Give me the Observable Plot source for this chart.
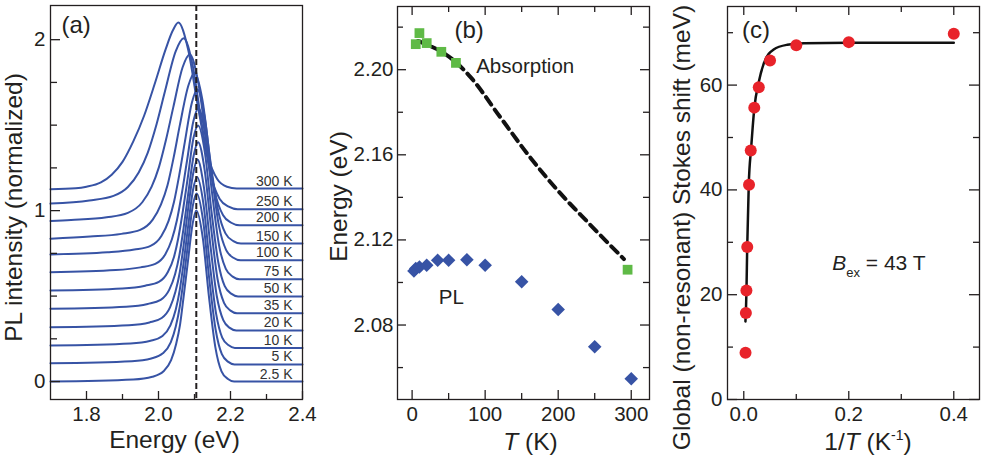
<!DOCTYPE html>
<html><head><meta charset="utf-8">
<script src="https://cdn.jsdelivr.net/npm/d3@7"></script>
<script src="https://cdn.jsdelivr.net/npm/@observablehq/plot@0.6"></script>
<style>
html,body{margin:0;padding:0;background:#fff;}
#wrap{position:relative;width:981px;height:458px;overflow:hidden;}
#wrap > svg{position:absolute;top:0;}
</style></head><body><div id="wrap"></div>
<script>
// ---------- Panel (a): PL spectra (energy eV, normalized intensity) ----------
const specTemps = ["2.5 K","5 K","10 K","20 K","35 K","50 K","75 K","100 K","150 K","200 K","250 K","300 K"];
const specOffsets = [0, 0.10, 0.197, 0.299, 0.40, 0.498, 0.599, 0.709, 0.807, 0.914, 1.008, 1.125];
const spec2_5 = [[1.7,0],[1.930,.012],[1.983,.028],[2.014,.06],[2.035,.125],[2.049,.22],[2.060,.335],[2.070,.5],[2.081,.69],[2.095,.925],[2.105,1],[2.123,.84],[2.140,.5],[2.158,.2],[2.175,.06],[2.193,.015],[2.210,0],[2.4,0]];
const spec5 = [[1.7,.007],[1.926,.019],[1.980,.035],[2.012,.065],[2.034,.129],[2.048,.222],[2.059,.336],[2.070,.501],[2.081,.69],[2.095,.925],[2.106,1],[2.124,.84],[2.141,.5],[2.159,.2],[2.176,.06],[2.194,.015],[2.211,0],[2.4,0]];
const spec10 = [[1.7,.014],[1.922,.026],[1.978,.042],[2.011,.07],[2.033,.132],[2.048,.224],[2.059,.338],[2.070,.501],[2.081,.69],[2.096,.925],[2.107,1],[2.125,.84],[2.142,.5],[2.160,.2],[2.177,.06],[2.195,.015],[2.212,0],[2.4,0]];
const spec20 = [[1.7,.019],[1.918,.031],[1.975,.047],[2.009,.073],[2.032,.135],[2.047,.226],[2.059,.339],[2.070,.502],[2.081,.69],[2.097,.925],[2.108,1],[2.126,.84],[2.144,.5],[2.162,.2],[2.180,.06],[2.198,.015],[2.216,0],[2.4,0]];
const spec35 = [[1.7,.026],[1.910,.038],[1.970,.054],[2.006,.078],[2.030,.138],[2.046,.228],[2.058,.34],[2.070,.503],[2.082,.69],[2.098,.925],[2.110,1],[2.128,.84],[2.146,.5],[2.164,.2],[2.182,.06],[2.200,.015],[2.218,0],[2.4,0]];
const spec50 = [[1.7,.035],[1.900,.047],[1.963,.063],[2.001,.085],[2.026,.143],[2.043,.231],[2.055,.342],[2.068,.504],[2.081,.69],[2.097,.925],[2.110,1],[2.129,.84],[2.147,.5],[2.166,.2],[2.184,.06],[2.203,.015],[2.221,0],[2.4,0]];
const spec75 = [[1.7,.041],[1.881,.053],[1.950,.069],[1.991,.089],[2.019,.146],[2.037,.232],[2.051,.343],[2.065,.504],[2.079,.69],[2.097,.925],[2.111,1],[2.130,.84],[2.149,.5],[2.168,.2],[2.187,.06],[2.206,.015],[2.225,0],[2.4,0]];
const spec100 = [[1.7,.035],[1.858,.047],[1.933,.063],[1.978,.085],[2.008,.143],[2.028,.231],[2.043,.342],[2.058,.504],[2.073,.69],[2.093,.925],[2.108,1],[2.128,.84],[2.148,.5],[2.168,.2],[2.188,.06],[2.208,.015],[2.228,0],[2.4,0]];
const spec150 = [[1.7,.029],[1.810,.041],[1.897,.057],[1.949,.08],[1.984,.14],[2.007,.229],[2.025,.341],[2.042,.503],[2.059,.69],[2.083,.925],[2.100,1],[2.122,.84],[2.143,.5],[2.165,.2],[2.186,.06],[2.208,.015],[2.229,0],[2.4,0]];
const spec200 = [[1.7,.025],[1.757,.031],[1.856,.047],[1.915,.073],[1.955,.135],[1.981,.226],[2.001,.339],[2.021,.502],[2.041,.69],[2.067,.925],[2.087,1],[2.110,.84],[2.133,.5],[2.156,.2],[2.179,.06],[2.202,.015],[2.225,0],[2.4,0]];
const spec250 = [[1.7,.033],[1.808,.051],[1.875,.078],[1.915,.13],[1.945,.215],[1.970,.33],[1.995,.50],[2.018,.69],[2.048,.925],[2.070,1],[2.095,.84],[2.120,.5],[2.145,.2],[2.170,.06],[2.195,.015],[2.220,0],[2.4,0]];
const spec300 = [[1.7,0],[1.77,.006],[1.80,.015],[1.84,.04],[1.87,.085],[1.90,.16],[1.93,.28],[1.96,.43],[1.99,.62],[2.02,.82],[2.04,.93],[2.055,.975],[2.082,.82],[2.109,.49],[2.136,.2],[2.163,.06],[2.190,.015],[2.217,.005],[2.4,.005]];
const spectra = [spec2_5, spec5, spec10, spec20, spec35, spec50, spec75, spec100, spec150, spec200, spec250, spec300];
const refEnergy = [2.105];
const aXMajor = [1.8, 2.0, 2.2, 2.4], aXMinor = [1.9, 2.1, 2.3];
const aYMajor = [0, 1, 2], aYMinor = [0.25, 0.5, 0.75, 1.25, 1.5, 1.75];

// ---------- Panel (b): peak energies vs T ----------
const plT = [2.5, 5, 10, 20, 35, 50, 75, 100, 150, 200, 250, 300];
const plE = [2.1054, 2.1066, 2.1073, 2.1081, 2.1104, 2.1104, 2.1107, 2.1081, 2.1003, 2.0873, 2.0698, 2.0548];
const absT = [5, 10, 20, 40, 60, 295];
const absE = [2.2120, 2.2172, 2.2125, 2.2084, 2.2032, 2.1060];
const absFitT = [8, 20, 40, 60, 80, 120, 160, 200, 240, 290];
const absFitE = [2.2135, 2.2118, 2.2085, 2.2035, 2.1965, 2.1780, 2.1595, 2.1430, 2.1285, 2.1110];
const bXMajor = [0, 100, 200, 300], bXMinor = [50, 150, 250];
const bYMajor = [2.08, 2.12, 2.16, 2.20], bYMinor = [2.06, 2.10, 2.14, 2.18, 2.22];

// ---------- Panel (c): Stokes shift vs 1/T ----------
const invT = [0.00333, 0.004, 0.005, 0.00667, 0.01, 0.0133, 0.02, 0.0286, 0.05, 0.1, 0.2, 0.4];
const stokes = [8.9, 16.5, 20.8, 29.1, 41.0, 47.5, 55.7, 59.6, 64.7, 67.6, 68.2, 69.8];
const fitInvT = [0.0032, 0.0051, 0.0065, 0.0095, 0.014, 0.017, 0.02, 0.0286, 0.038, 0.057, 0.083, 0.115, 0.2, 0.4];
const fitStokes = [14.9, 20.6, 28.9, 41, 48, 52, 55.5, 60.6, 64.1, 66.8, 67.7, 68, 68.1, 68.1];
const cXMajor = [0, 0.2, 0.4], cXMinor = [0.1, 0.3];
const cYMajor = [0, 20, 40, 60], cYMinor = [10, 30, 50, 70];

// ---------- styling ----------
const FONT = "'Liberation Sans', Arial, Helvetica, sans-serif";
const INK = "#231f20";
const BLUE = "#3753a5";
const GREEN = "#5fba46";
const RED = "#e8232a";
const TICK_FS = 20.5, TITLE_FS = 24.5;
const baseStyle = {fontFamily: FONT, fontSize: TICK_FS + "px", color: INK, background: "transparent"};

function ticks(values, side, len, innerW, innerH) {
  const o = {stroke: INK, strokeWidth: 1.3};
  if (side === "bottom") return Plot.tickX(values, {x: d => d, insetTop: innerH - len, ...o});
  if (side === "top") return Plot.tickX(values, {x: d => d, insetBottom: innerH - len, ...o});
  if (side === "left") return Plot.tickY(values, {y: d => d, insetRight: innerW - len, ...o});
  return Plot.tickY(values, {y: d => d, insetLeft: innerW - len, ...o});
}
function label(str, opts) {
  return Plot.text([str], {text: d => d, fill: INK, lineAnchor: "middle", ...opts});
}
function rich(svg, plain, html) {
  d3.select(svg).selectAll("text").filter(function () { return this.textContent === plain; }).html(html);
}
const wrap = document.getElementById("wrap");
function place(svg, left) { svg.style.left = left + "px"; wrap.appendChild(svg); }

// ---------- (a) ----------
{
  const W = 325, H = 458, mL = 50, mR = 23, mT = 5, mB = 59;
  const iw = W - mL - mR, ih = H - mT - mB;
  const rows = spectra.flatMap((pts, i) => pts.map(([E, I]) => ({T: specTemps[i], E, y: I + specOffsets[i]})));
  const lab = specTemps.map((t, i) => ({t, y: specOffsets[i]}));
  const svg = Plot.plot({
    width: W, height: H, marginLeft: mL, marginRight: mR, marginTop: mT, marginBottom: mB,
    style: baseStyle,
    x: {domain: [1.7, 2.4]},
    y: {domain: [-0.105, 2.2]},
    marks: [
      Plot.line(rows, {x: "E", y: "y", z: "T", stroke: BLUE, strokeWidth: 2, curve: "monotone-x"}),
      Plot.ruleX(refEnergy, {x: d => d, stroke: INK, strokeWidth: 2, strokeDasharray: "6,3"}),
      Plot.text(lab, {y: "y", text: "t", frameAnchor: "right", textAnchor: "end", lineAnchor: "middle", dx: -10, dy: -7.5, fontSize: 14, fill: "#333"}),
      ticks(aXMajor, "bottom", 8, iw, ih), ticks(aXMinor, "bottom", 5, iw, ih),
      ticks(aYMajor, "left", 10, iw, ih), ticks(aYMinor, "left", 7, iw, ih),
      Plot.axisX({ticks: aXMajor, tickSize: 0, tickPadding: 7, tickFormat: d => d.toFixed(1), label: null}),
      Plot.axisY({ticks: aYMajor, tickSize: 0, tickPadding: 5, tickFormat: d => String(d), label: null}),
      Plot.frame({stroke: INK, strokeWidth: 1.3}),
      label("Energy (eV)", {frameAnchor: "bottom", textAnchor: "middle", dy: 41, dx: -2, fontSize: TITLE_FS}),
      label("PL intensity (normalized)", {frameAnchor: "left", textAnchor: "middle", rotate: -90, dx: -36, dy: 5, fontSize: TITLE_FS}),
      label("(a)", {frameAnchor: "top-left", textAnchor: "start", dx: 11, dy: 20, fontSize: 24})
    ]
  });
  place(svg, 0);
}

// ---------- (b) ----------
{
  const W = 330, H = 458, mL = 72, mR = 6, mT = 6, mB = 59;
  const iw = W - mL - mR, ih = H - mT - mB;
  const pl = plT.map((t, i) => ({t, e: plE[i]}));
  const ab = absT.map((t, i) => ({t, e: absE[i]}));
  const fit = absFitT.map((t, i) => ({t, e: absFitE[i]}));
  const svg = Plot.plot({
    width: W, height: H, marginLeft: mL, marginRight: mR, marginTop: mT, marginBottom: mB,
    style: baseStyle,
    x: {domain: [-20, 325]},
    y: {domain: [2.045, 2.2297]},
    marks: [
      Plot.line(fit, {x: "t", y: "e", stroke: "#111", strokeWidth: 4, strokeDasharray: "9,6", curve: "monotone-x"}),
      Plot.dot(ab, {x: "t", y: "e", symbol: "square", r: 5.5, fill: GREEN}),
      Plot.dot(pl, {x: "t", y: "e", symbol: "diamond2", r: 6.1, fill: BLUE}),
      ticks(bXMajor, "bottom", 9, iw, ih), ticks(bXMinor, "bottom", 6, iw, ih),
      ticks(bXMajor, "top", 9, iw, ih), ticks(bXMinor, "top", 6, iw, ih),
      ticks(bYMajor, "left", 9, iw, ih), ticks(bYMinor, "left", 6, iw, ih),
      ticks(bYMajor, "right", 9, iw, ih), ticks(bYMinor, "right", 6, iw, ih),
      Plot.axisX({ticks: bXMajor, tickSize: 0, tickPadding: 7, tickFormat: d => String(d), label: null}),
      Plot.axisY({ticks: bYMajor, tickSize: 0, tickPadding: 4, tickFormat: d => d.toFixed(2), label: null}),
      Plot.frame({stroke: INK, strokeWidth: 1.3}),
      label("T (K)", {frameAnchor: "bottom", textAnchor: "middle", dy: 42.5, dx: 7, fontSize: TITLE_FS}),
      label("Energy (eV)", {frameAnchor: "left", textAnchor: "middle", rotate: -90, dx: -58, dy: -6.5, fontSize: TITLE_FS}),
      label("(b)", {frameAnchor: "top-left", textAnchor: "start", dx: 57, dy: 24, fontSize: 24}),
      label("Absorption", {frameAnchor: "top-left", textAnchor: "start", dx: 78.7, dy: 59.7, fontSize: 20.5}),
      label("PL", {frameAnchor: "top-left", textAnchor: "start", dx: 41.3, dy: 290.7, fontSize: 20.5})
    ]
  });
  rich(svg, "T (K)", '<tspan font-style="italic">T</tspan> (K)');
  place(svg, 325);
}

// ---------- (c) ----------
{
  const W = 326, H = 458, mL = 72, mR = 2, mT = 6, mB = 59;
  const iw = W - mL - mR, ih = H - mT - mB;
  const pts = invT.map((x, i) => ({x, s: stokes[i]}));
  const fit = fitInvT.map((x, i) => ({x, s: fitStokes[i]}));
  const svg = Plot.plot({
    width: W, height: H, marginLeft: mL, marginRight: mR, marginTop: mT, marginBottom: mB,
    style: baseStyle,
    x: {domain: [-0.031, 0.449]},
    y: {domain: [0, 75]},
    marks: [
      Plot.line(fit, {x: "x", y: "s", stroke: "#111", strokeWidth: 2.5, curve: "monotone-x"}),
      Plot.dot(pts, {x: "x", y: "s", r: 6, fill: RED}),
      ticks(cXMajor, "bottom", 8, iw, ih), ticks(cXMinor, "bottom", 5, iw, ih),
      ticks(cXMajor, "top", 9, iw, ih), ticks(cXMinor, "top", 6, iw, ih),
      ticks(cYMajor, "left", 10, iw, ih), ticks(cYMinor, "left", 6, iw, ih),
      ticks(cYMajor, "right", 10, iw, ih), ticks(cYMinor, "right", 6, iw, ih),
      Plot.axisX({ticks: cXMajor, tickSize: 0, tickPadding: 7, tickFormat: d => d.toFixed(1), label: null}),
      Plot.axisY({ticks: cYMajor, tickSize: 0, tickPadding: 5, tickFormat: d => String(d), label: null}),
      Plot.frame({stroke: INK, strokeWidth: 1.3}),
      label("1/T (K-1)", {frameAnchor: "bottom", textAnchor: "middle", dy: 42.5, dx: 14.5, fontSize: TITLE_FS}),
      label("Global (non-resonant) Stokes shift (meV)", {frameAnchor: "left", textAnchor: "middle", rotate: -90, dx: -45.3, dy: 24.5, fontSize: TITLE_FS}),
      label("(c)", {frameAnchor: "top-left", textAnchor: "start", dx: 14.5, dy: 24, fontSize: 24}),
      label("Bex = 43 T", {frameAnchor: "top-left", textAnchor: "start", dx: 104.7, dy: 257, fontSize: 21})
    ]
  });
  rich(svg, "1/T (K-1)", '1/<tspan font-style="italic">T</tspan> (K<tspan dy="-10" font-size="14">-1</tspan><tspan dy="10">)</tspan>');
  rich(svg, "Bex = 43 T", '<tspan font-style="italic">B</tspan><tspan dy="7" font-size="13">ex</tspan><tspan dy="-7"> = 43 T</tspan>');
  place(svg, 655);
}
</script></body></html>
